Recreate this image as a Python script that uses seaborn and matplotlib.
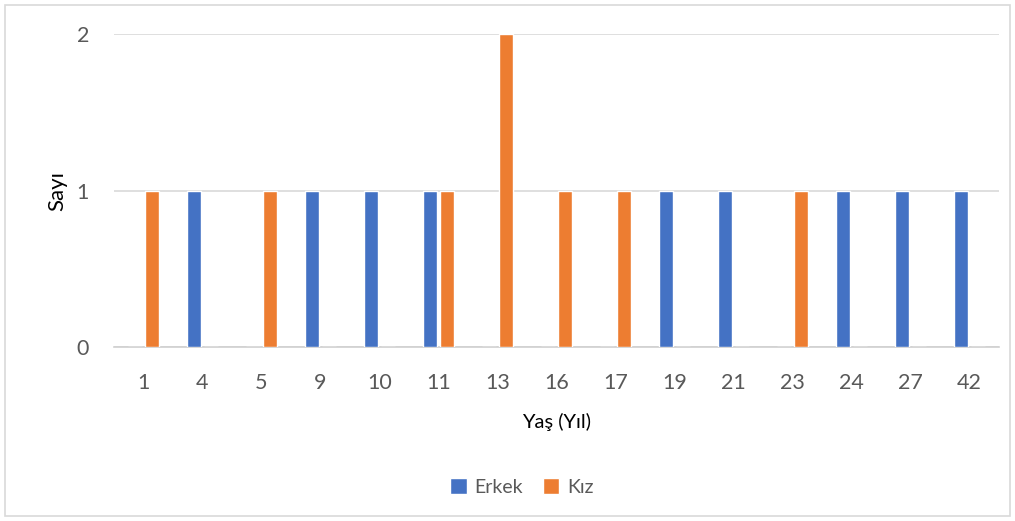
import matplotlib.pyplot as plt
import pandas as pd
import seaborn as sns
from matplotlib.patches import Rectangle

yas = ["1", "4", "5", "9", "10", "11", "13", "16", "17", "19", "21", "23", "24", "27", "42"]
erkek = [0, 1, 0, 1, 1, 1, 0, 0, 0, 1, 1, 0, 1, 1, 1]
kiz = [1, 0, 1, 0, 0, 1, 2, 1, 1, 0, 0, 1, 0, 0, 0]

sns.set_theme(style="white")
plt.rcParams["font.family"] = ["Lato", "DejaVu Sans"]

df = pd.DataFrame({"Yaş": yas, "Erkek": erkek, "Kız": kiz})
long_df = df.melt(id_vars="Yaş", var_name="Cinsiyet", value_name="Sayı")

text_color = "#595959"

fig = plt.figure(figsize=(10.15, 5.21), dpi=100)
ax = fig.add_axes([0.1123, 0.334, 0.8719, 0.6007])

sns.barplot(
    data=long_df,
    x="Yaş",
    y="Sayı",
    hue="Cinsiyet",
    order=yas,
    palette={"Erkek": "#4472C4", "Kız": "#ED7D31"},
    saturation=1,
    width=0.58,
    gap=0.18,
    ax=ax,
    zorder=3,
)

ax.set_ylim(0, 2)
ax.set_yticks([0, 1, 2])
ax.yaxis.grid(True, color="#D9D9D9", linewidth=1.2, zorder=0)
ax.set_axisbelow(True)
for side in ["top", "right", "left"]:
    ax.spines[side].set_visible(False)
ax.spines["bottom"].set_color("#D0D0D0")
ax.spines["bottom"].set_linewidth(1.2)

ax.tick_params(axis="x", length=0, pad=19, labelsize=15.5, labelcolor=text_color)
ax.tick_params(axis="y", length=0, pad=18, labelsize=15.5, labelcolor=text_color)

ax.set_xlabel("Yaş (Yıl)", fontsize=14.5, color="black", labelpad=14)
ax.set_ylabel("Sayı", fontsize=16, color="black", labelpad=7)

ax.legend(
    loc="center",
    bbox_to_anchor=(0.461, -0.447),
    ncol=2,
    frameon=False,
    fontsize=14,
    handlelength=0.85,
    handleheight=0.85,
    handletextpad=0.4,
    columnspacing=1.0,
    labelcolor=text_color,
)

fig.patches.append(Rectangle((0.005, 0.01), 0.99, 0.98, transform=fig.transFigure,
                             fill=False, edgecolor="#D9D9D9", linewidth=1.2))

fig.savefig("out.png", dpi=100)
